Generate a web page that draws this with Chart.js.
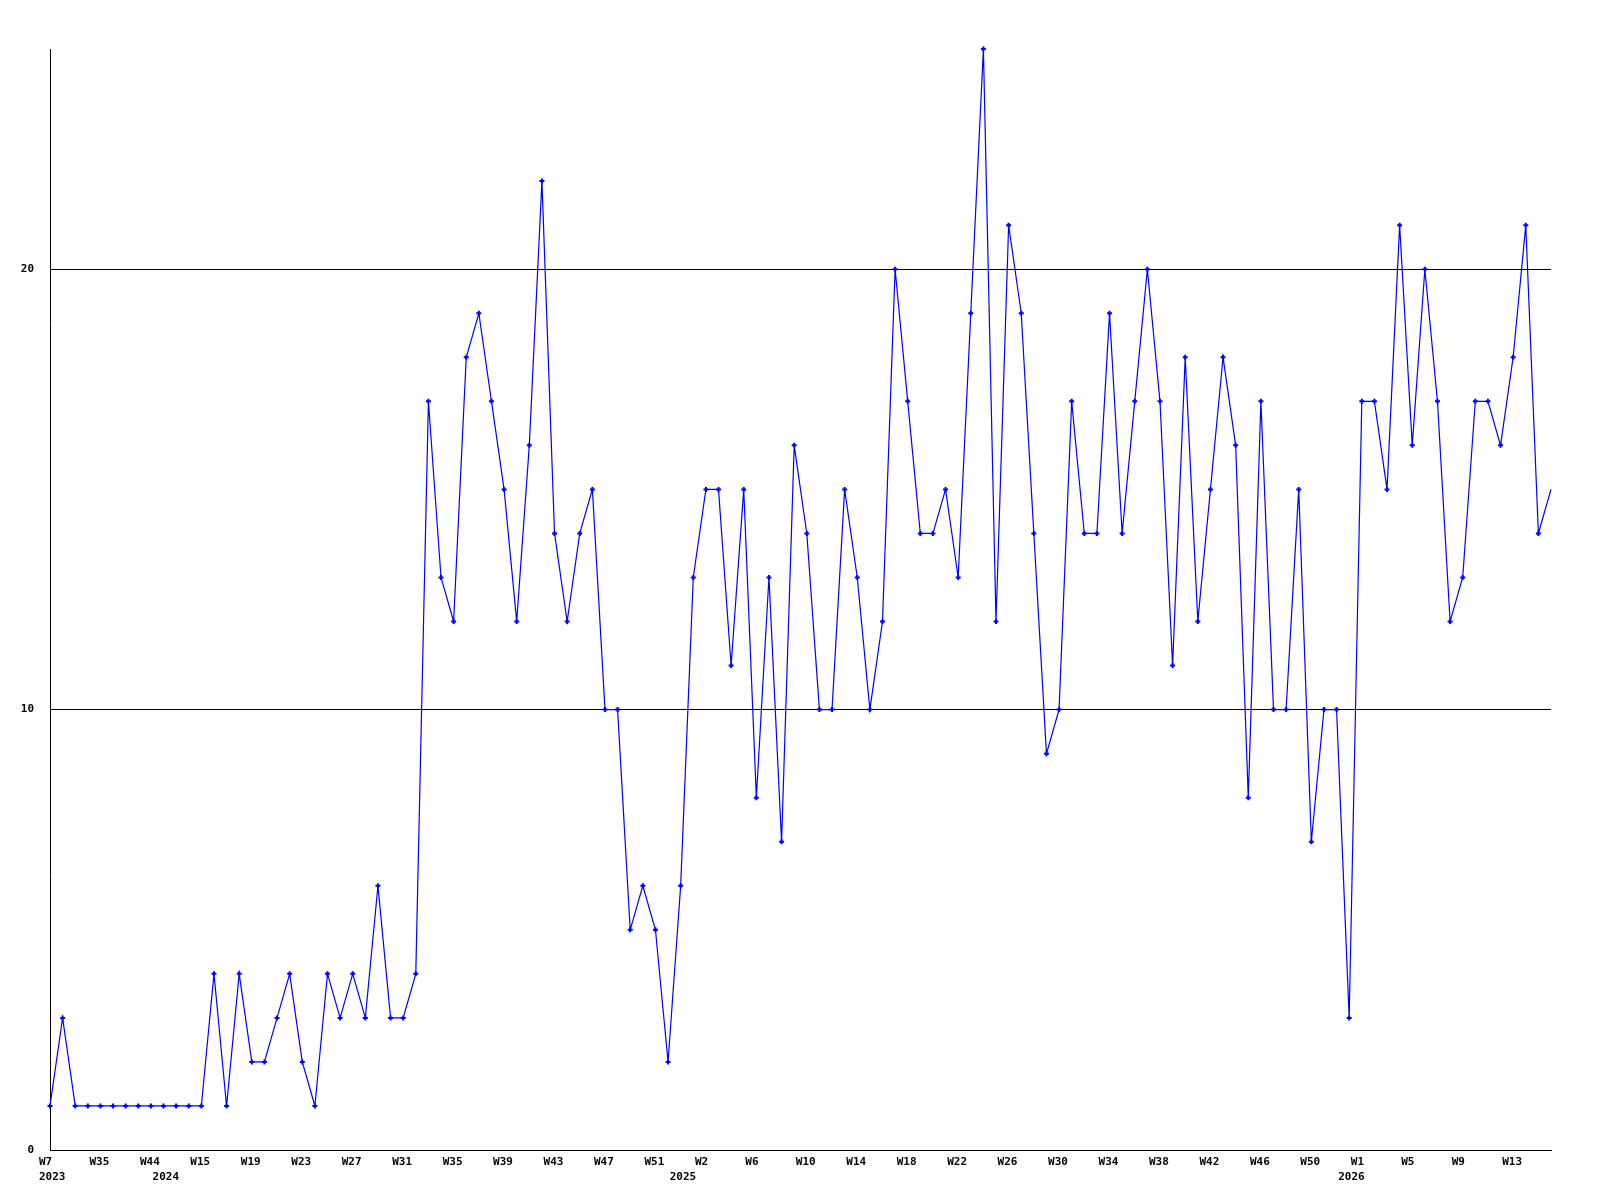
<!DOCTYPE html>
<html>
<head>
<meta charset="utf-8">
<script src="https://cdn.jsdelivr.net/npm/chart.js@4.4.0/dist/chart.umd.min.js"></script>
<style>
  body { margin: 0; background: #fff; }
  canvas { display: block; }
</style>
</head>
<body>
<canvas id="myChart" width="1600" height="1200"></canvas>
<script>
// week labels per year (2023 and early 2024 are sparse)
const weeks2023 = ['W7', 'W13', 'W20', 'W28', 'W35', 'W37', 'W39', 'W41', 'W44'];
const weeks2024 = ['W3', 'W8', 'W12', 'W15', 'W16', 'W17', 'W18', 'W19', 'W20', 'W21', 'W22', 'W23', 'W24',
    'W25', 'W26', 'W27', 'W28', 'W29', 'W30', 'W31', 'W32', 'W33', 'W34', 'W35', 'W36', 'W37', 'W38',
    'W39', 'W40', 'W41', 'W42', 'W43', 'W44', 'W45', 'W46', 'W47', 'W48', 'W49', 'W50', 'W51', 'W52'];
const weeks2025 = ['W0', 'W1', 'W2', 'W3', 'W4', 'W5', 'W6', 'W7', 'W8', 'W9', 'W10', 'W11', 'W12', 'W13',
    'W14', 'W15', 'W16', 'W17', 'W18', 'W19', 'W20', 'W21', 'W22', 'W23', 'W24', 'W25', 'W26', 'W27',
    'W28', 'W29', 'W30', 'W31', 'W32', 'W33', 'W34', 'W35', 'W36', 'W37', 'W38', 'W39', 'W40', 'W41',
    'W42', 'W43', 'W44', 'W45', 'W46', 'W47', 'W48', 'W49', 'W50', 'W51', 'W52'];
const weeks2026 = ['W0', 'W1', 'W2', 'W3', 'W4', 'W5', 'W6', 'W7', 'W8', 'W9', 'W10', 'W11', 'W12', 'W13',
    'W14', 'W15', 'W16'];

// weekly counts
const counts = [
    1, 3, 1, 1, 1, 1, 1, 1, 1, 1, 1, 1, 1, 4, 1, 4, 2, 2, 3, 4, 2, 1, 4, 3, 4, 3, 6, 3, 3, 4,
    17, 13, 12, 18, 19, 17, 15, 12, 16, 22, 14, 12, 14, 15, 10, 10, 5, 6, 5, 2, 6, 13, 15, 15, 11, 15, 8, 13, 7, 16,
    14, 10, 10, 15, 13, 10, 12, 20, 17, 14, 14, 15, 13, 19, 25, 12, 21, 19, 14, 9, 10, 17, 14, 14, 19, 14, 17, 20, 17, 11,
    18, 12, 15, 18, 16, 8, 17, 10, 10, 15, 7, 10, 10, 3, 17, 17, 15, 21, 16, 20, 17, 12, 13, 17, 17, 16, 18, 21, 14, 15
];

const yTicks = [0, 10, 20];

const weekLabels = [];
const yearLabels = [];
[['2023', weeks2023], ['2024', weeks2024], ['2025', weeks2025], ['2026', weeks2026]].forEach(([year, weeks]) => {
    weeks.forEach(w => {
        weekLabels.push(w);
        yearLabels.push(year);
    });
});

const monoFont = { family: "'DejaVu Sans Mono', monospace", size: 11, weight: 'bold', lineHeight: 1.4 };

const ctx = document.getElementById('myChart').getContext('2d');
new Chart(ctx, {
    type: 'line',
    data: {
        labels: weekLabels,
        datasets: [{
            data: counts,
            borderColor: '#0000ff',
            borderWidth: 1.2,
            pointStyle: 'cross',
            // no marker on the last (current) week
            pointRadius: c => c.dataIndex === counts.length - 1 ? 0 : 2.5,
            pointBorderWidth: 2,
            pointBorderColor: '#0000ff',
            pointBackgroundColor: '#0000ff',
            tension: 0,
            fill: false,
            clip: false
        }]
    },
    options: {
        responsive: false,
        animation: false,
        layout: { padding: { top: 49, right: 49, left: 0, bottom: 0 } },
        plugins: {
            legend: { display: false },
            tooltip: { enabled: false }
        },
        scales: {
            x: {
                offset: false,
                grid: { display: false, drawTicks: false },
                border: { color: '#000', width: 1 },
                ticks: {
                    autoSkip: false,
                    maxRotation: 0,
                    minRotation: 0,
                    align: 'start',
                    labelOffset: -11,
                    padding: 4,
                    color: '#000',
                    font: monoFont,
                    callback: (v, i) => [
                        i % 4 === 0 ? weekLabels[i] : '',
                        (i === 0 || yearLabels[i] !== yearLabels[i - 1]) ? yearLabels[i] : ''
                    ]
                },
                afterFit: s => { s.height = 50; }
            },
            y: {
                min: 0,
                max: 25,
                afterBuildTicks: s => { s.ticks = yTicks.map(v => ({ value: v })); },
                grid: { color: '#000', drawTicks: false },
                border: { color: '#000', width: 1 },
                ticks: { padding: 16, color: '#000', font: monoFont },
                afterFit: s => { s.width = 50; }
            }
        }
    }
});
</script>
</body>
</html>
